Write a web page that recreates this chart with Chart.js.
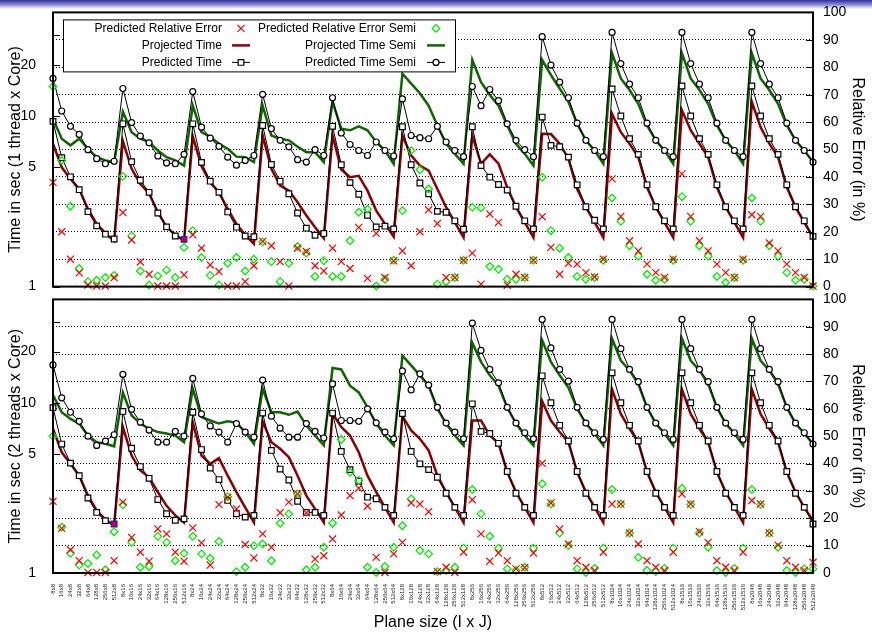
<!DOCTYPE html>
<html lang="en">
  <head>
    <meta charset="UTF-8" />
    <title>Predicted vs projected time</title>
    <script src="https://cdn.jsdelivr.net/npm/chart.js"></script>
    <style>
      body { margin: 0; background: #fff; }
      #wrap { position: relative; width: 872px; height: 633px; overflow: hidden; }
      .bar {
        position: absolute; left: 0; top: 0; width: 872px; height: 9px;
        background: linear-gradient(#2e2e9a, #9090d8 55%, #fff);
      }
      canvas { position: absolute; left: 0; }
      #chartTop { top: -6px; }
      #chartBottom { top: 281px; }
    </style>
  </head>
  <body>
    <div id="wrap">
      <div class="bar"></div>
      <canvas id="chartTop" width="872" height="311"></canvas>
      <canvas id="chartBottom" width="872" height="352"></canvas>
    </div>

    <script>
      // eixo x: I x J
      const sizesI = ["8", "16", "24", "32", "64", "128", "256", "512"];
      const sizesJ = ["8", "16", "24", "32", "64", "128", "256", "512", "1024", "1536", "2048"];
      const planeLabels = sizesJ.flatMap((j) => sizesI.map((i) => i + "x" + j));

      const timeTicks = [1, 5, 10, 20];

      // 1 thread x core (seconds / %)
      const predTime1 = [
        9.3, 5.7, 4.4, 3.7, 2.75, 2.27, 2.03, 1.9,
        9.0, 5.4, 4.2, 3.57, 2.7, 2.24, 1.98, 1.89,
        9.0, 5.35, 4.15, 3.57, 2.74, 2.23, 1.98, 1.96,
        8.8, 5.2, 4.15, 3.5, 2.7, 2.2, 2.0, 2.05,
        8.7, 5.18, 4.07, 3.48, 2.62, 2.24, 2.26, 2.18,
        8.65, 5.18, 4.05, 3.5, 2.76, 2.73, 2.43, 2.17,
        8.65, 5.12, 4.38, 3.97, 3.68, 2.96, 2.43, 2.18,
        9.86, 6.73, 6.6, 5.74, 3.95, 2.94, 2.45, 2.18,
        14.4, 10.0, 7.37, 5.96, 3.95, 2.94, 2.43, 2.18,
        15.0, 10.0, 7.37, 5.96, 3.95, 2.94, 2.43, 2.18,
        15.0, 10.0, 7.37, 5.96, 3.95, 2.94, 2.43, 1.97,
      ];
      const predSemi1 = [
        16.6, 10.7, 8.7, 7.8, 6.35, 5.62, 5.25, 5.43,
        14.5, 9.15, 7.63, 6.96, 5.83, 5.31, 5.25, 5.96,
        13.9, 8.6, 7.42, 6.63, 5.74, 5.15, 5.49, 5.87,
        13.4, 8.43, 7.2, 6.6, 5.55, 5.37, 6.35, 5.87,
        12.8, 7.95, 6.81, 6.28, 5.87, 7.04, 6.28, 5.83,
        12.6, 7.69, 7.47, 7.36, 8.7, 7.04, 6.28, 5.78,
        14.9, 11.5, 14.3, 12.3, 9.0, 7.2, 6.35, 5.78,
        29.2, 19.9, 15.8, 12.8, 9.08, 7.2, 6.28, 5.78,
        30.9, 20.3, 15.4, 12.8, 9.08, 7.2, 6.28, 5.78,
        30.9, 20.3, 15.4, 12.8, 9.08, 7.2, 6.28, 5.78,
        30.9, 20.3, 15.4, 12.8, 9.08, 7.2, 6.28, 5.37,
      ];
      const proj1 = [
        6.88, 5.0, 4.28, 3.73, 2.85, 2.33, 2.05, 1.85,
        7.12, 4.9, 4.0, 3.52, 2.73, 2.24, 2.01, 1.85,
        7.6, 5.07, 4.08, 3.57, 2.85, 2.33, 2.01, 1.78,
        7.69, 4.9, 3.91, 3.65, 3.12, 2.61, 2.23, 1.92,
        7.69, 4.86, 4.38, 4.46, 3.65, 2.79, 2.33, 1.96,
        7.69, 5.87, 5.12, 4.79, 3.73, 2.92, 2.38, 1.94,
        7.69, 5.25, 5.96, 5.25, 3.82, 2.92, 2.38, 1.94,
        7.87, 7.84, 6.88, 5.62, 3.73, 2.92, 2.38, 1.94,
        10.3, 8.04, 6.88, 5.74, 3.82, 2.92, 2.38, 1.94,
        10.8, 8.25, 6.88, 5.74, 3.82, 2.92, 2.38, 1.94,
        12.1, 8.6, 6.88, 5.74, 3.82, 2.92, 2.38, 1.94,
      ];
      const projSemi1 = [
        9.64, 7.36, 6.73, 7.36, 6.42, 5.74, 5.49, 5.37,
        10.6, 8.04, 7.36, 7.04, 6.28, 5.74, 5.49, 5.12,
        11.5, 8.04, 7.55, 6.88, 6.42, 5.78, 5.74, 5.37,
        11.5, 7.69, 7.36, 7.2, 6.6, 6.14, 6.14, 5.37,
        12.1, 8.43, 8.25, 8.7, 8.25, 7.04, 6.28, 5.25,
        17.7, 15.5, 13.6, 11.5, 8.8, 6.88, 6.0, 5.25,
        21.3, 15.8, 13.3, 11.5, 8.8, 6.88, 6.0, 5.12,
        21.3, 17.4, 14.5, 12.1, 9.0, 7.2, 6.28, 5.25,
        23.3, 16.6, 14.2, 11.8, 8.8, 7.2, 6.28, 5.25,
        23.3, 16.6, 14.2, 11.8, 8.8, 7.2, 6.28, 5.25,
        23.3, 16.6, 14.2, 11.8, 8.8, 7.2, 6.28, 5.37,
      ];
      const err1 = [
        38, 20, 10, 5, 0.6, 0.2, 0.2, 3.3,
        27, 17, 9, 4.5, 0.2, 0.2, 0.2, 4.3,
        18.9, 14, 7.9, 5.5, 0.2, 0.2, 1.8, 7.6,
        16.5, 14.9, 9.1, 0.2, 14, 12.8, 7.6, 5.7,
        14, 9.1, 6.6, 21.6, 3, 19.4, 3.3, 9.4,
        13, 7.6, 20, 28, 23, 3.3, 3.3, 9.6,
        12.2, 0.9, 26.5, 23.4, 0.5, 4.5, 3.3, 9.6,
        25.5, 14.3, 4.5, 8.5, 8.2, 5.1, 3.5, 10,
        39.3, 25.6, 16.7, 13, 8.2, 5.1, 3.3, 10,
        41.1, 25.6, 16.7, 13, 8.2, 5.1, 3.3, 10,
        26.2, 25.6, 15.9, 13, 8.2, 5.1, 3.3, 0.2,
      ];
      const errSemi1 = [
        73, 46, 29.3, 6.6, 1.8, 2.3, 3.3, 4.1,
        40.2, 18.5, 5.7, 0.6, 3.9, 6, 3.3, 14.3,
        20.4, 10.6, 4.1, 0.6, 8.5, 10.6, 5.7, 10,
        16.3, 9.1, 1.8, 8.5, 14.6, 12.2, 3.7, 9.4,
        3.7, 3.7, 16.7, 27.1, 28.2, 0.2, 2.7, 9.6,
        27.7, 49.6, 42.6, 35.6, 0.9, 1.8, 3.3, 9.6,
        28.9, 28.7, 7.3, 6.3, 2.7, 2.7, 3.3, 9.6,
        39.9, 20.4, 14, 10.6, 3.7, 2.7, 3.3, 9.6,
        32.3, 23.8, 14.9, 11.1, 4.5, 2.3, 2.7, 9.6,
        32.8, 23.8, 14.9, 11.1, 3.7, 1.5, 3.3, 9.6,
        32.3, 23.8, 14.9, 11.1, 5.1, 2.3, 2.7, 0.2,
      ];

      // 2 threads x core
      const predTime2 = [
        9.36, 5.72, 4.42, 3.73, 2.76, 2.27, 2.03, 1.94,
        8.9, 5.41, 4.22, 3.6, 2.7, 2.23, 2.04, 2.08,
        8.8, 5.31, 4.14, 3.54, 2.67, 2.23, 2.13, 2.18,
        8.7, 5.25, 4.08, 3.52, 2.64, 2.27, 2.27, 2.18,
        8.7, 5.18, 4.05, 3.46, 2.79, 2.73, 2.43, 2.18,
        8.65, 5.18, 4.38, 4.05, 3.65, 2.94, 2.43, 2.18,
        9.86, 6.79, 6.6, 5.78, 3.95, 2.94, 2.43, 2.18,
        14.4, 10.0, 7.37, 5.96, 3.95, 2.94, 2.43, 2.18,
        15.0, 10.0, 7.37, 5.96, 3.95, 2.94, 2.43, 2.18,
        15.0, 10.0, 7.37, 5.96, 3.95, 2.94, 2.43, 2.18,
        15.0, 10.0, 7.37, 5.96, 3.95, 2.94, 2.43, 1.94,
      ];
      const predSemi2 = [
        16.7, 10.7, 8.8, 7.78, 6.37, 5.62, 5.96, 6.49,
        14.7, 9.15, 7.69, 6.91, 5.87, 5.87, 6.79, 6.37,
        13.9, 8.6, 7.31, 6.73, 5.87, 7.55, 6.73, 6.28,
        13.6, 8.34, 7.09, 6.28, 6.28, 7.55, 6.79, 6.21,
        12.9, 7.87, 7.87, 7.78, 9.22, 7.63, 6.73, 6.14,
        15.4, 11.9, 14.8, 12.7, 9.4, 7.6, 6.73, 6.14,
        29.4, 20.3, 15.7, 13.1, 9.4, 7.6, 6.67, 6.14,
        30.9, 21.0, 15.7, 13.4, 9.4, 7.6, 6.67, 6.09,
        30.9, 20.8, 15.7, 13.3, 9.4, 7.6, 6.67, 6.09,
        30.9, 20.8, 15.7, 13.3, 9.4, 7.6, 6.67, 6.09,
        30.9, 20.8, 15.7, 13.3, 9.4, 7.6, 6.67, 5.72,
      ];
      const proj2 = [
        7.04, 5.12, 4.38, 3.73, 2.85, 2.33, 2.06, 1.9,
        7.2, 4.9, 4.0, 3.65, 2.99, 2.48, 2.18, 1.98,
        7.69, 4.9, 4.38, 4.73, 3.73, 2.99, 2.43, 1.98,
        7.78, 5.87, 5.37, 4.79, 3.73, 2.85, 2.38, 1.98,
        8.66, 7.2, 6.42, 5.12, 3.73, 2.99, 2.43, 1.98,
        8.34, 6.88, 6.14, 5.25, 3.73, 2.99, 2.43, 1.98,
        7.87, 7.87, 6.42, 5.78, 3.91, 2.99, 2.43, 1.98,
        10.2, 7.87, 6.73, 5.87, 3.91, 2.99, 2.43, 1.98,
        12.0, 8.6, 7.04, 5.87, 3.91, 2.99, 2.43, 1.98,
        12.0, 8.6, 7.04, 5.87, 3.91, 2.99, 2.43, 1.98,
        12.0, 8.6, 7.04, 5.87, 3.91, 2.99, 2.43, 2.03,
      ];
      const projSemi2 = [
        11.1, 8.8, 8.04, 7.55, 6.42, 5.87, 5.74, 5.55,
        11.5, 8.43, 7.55, 7.04, 6.73, 6.6, 6.42, 5.87,
        12.1, 8.25, 7.87, 7.55, 7.78, 7.63, 6.73, 5.74,
        12.1, 8.8, 8.8, 8.5, 8.88, 7.36, 6.42, 5.62,
        16.0, 15.7, 12.6, 11.5, 9.4, 7.55, 6.42, 5.62,
        18.9, 16.6, 14.5, 12.6, 9.22, 7.55, 6.42, 5.62,
        22.5, 17.4, 14.5, 12.6, 9.4, 7.55, 6.42, 5.62,
        23.3, 17.4, 14.5, 12.3, 9.22, 7.55, 6.6, 5.62,
        23.8, 17.7, 15.5, 12.9, 9.4, 7.55, 6.6, 5.62,
        23.8, 17.7, 15.5, 12.9, 9.4, 7.55, 6.6, 5.62,
        23.8, 17.7, 15.5, 12.9, 9.4, 7.55, 6.6, 5.74,
      ];
      const err2 = [
        26.2, 16.3, 8.5, 4.5, 0.2, 0.2, 0.2, 4.5,
        25.9, 13, 7.6, 4.3, 16.1, 14.3, 7.6, 4.3,
        16.5, 11, 2.9, 25, 27.7, 23.4, 10.4, 5.5,
        14.3, 9.4, 22, 25.9, 28.9, 22, 5.1, 6.3,
        12.4, 21.2, 28.3, 31, 24.4, 5.7, 0.2, 7,
        11.2, 25.6, 25.2, 22.4, 0.5, 2.1, 0.2, 7.6,
        26.8, 14.3, 4.3, 7.3, 4.5, 1.5, 2, 7.3,
        40.1, 25.6, 16.1, 10.6, 4.5, 2.1, 0.9, 7.6,
        25.2, 25.2, 14.6, 10.6, 4.5, 2.1, 0.9, 7.6,
        28.9, 25.2, 15.1, 11.2, 4.5, 2.1, 0.9, 7.6,
        26.5, 25.2, 14.6, 10.2, 4.5, 2.1, 0.9, 3.9,
      ];
      const errSemi2 = [
        50, 16.7, 7.2, 2.9, 3.5, 6.6, 1.2, 15.1,
        24.9, 11.2, 2.1, 2.4, 13.4, 11.2, 4.5, 7.2,
        13.4, 7, 5.4, 11.5, 27.9, 0.5, 2.1, 10,
        10.6, 4.5, 18.2, 21.6, 28.9, 1.2, 2.1, 9.4,
        18.2, 48.8, 36.8, 33.8, 2.1, 0.2, 2.4, 9.4,
        17.3, 27.1, 8.2, 7, 0.5, 0.9, 2.1, 9.1,
        30.5, 21.6, 13.4, 9.1, 1.5, 0.9, 2.1, 9.1,
        32.6, 25.2, 14.6, 10, 1.5, 0.2, 1.7, 9.1,
        30.5, 25.2, 14.6, 5.7, 0.9, 0.5, 1.7, 9.1,
        31, 25, 14.6, 9.4, 0.9, 0.2, 1.7, 9.1,
        30.5, 25, 14.6, 9.4, 0.9, 0.2, 1.5, 1.5,
      ];

      Chart.defaults.font.family = '"Liberation Sans", Arial, Helvetica, sans-serif';
      Chart.defaults.color = "#000";

      // moldura + ticks para dentro, estilo gnuplot
      const framePlugin = {
        id: "frame",
        afterDraw(chart) {
          const { ctx, chartArea: a, scales } = chart;
          ctx.save();
          ctx.strokeStyle = "#000";
          ctx.lineWidth = 1;
          ctx.beginPath();
          [1, 5, 10, 20, 30].forEach((v) => {
            const y = Math.round(scales.y.getPixelForValue(v)) + 0.5;
            ctx.moveTo(a.left, y);
            ctx.lineTo(a.left + 7, y);
          });
          for (let v = 0; v <= 100; v += 10) {
            const y = Math.round(scales.y1.getPixelForValue(v)) + 0.5;
            ctx.moveTo(a.right - 7, y);
            ctx.lineTo(a.right, y);
          }
          ctx.stroke();
          ctx.lineWidth = 2;
          ctx.strokeRect(a.left, a.top, a.right - a.left, a.bottom - a.top);
          ctx.restore();
        },
      };

      // legenda em duas colunas (texto à esquerda do símbolo)
      const legendPlugin = {
        id: "gnuLegend",
        afterDraw(chart, args, opts) {
          if (!opts.show) return;
          const ctx = chart.ctx;
          const ds = chart.data.datasets;
          const top = chart.chartArea.top;
          ctx.save();
          ctx.fillStyle = "#fff";
          ctx.fillRect(63, top + 7, 392, 52);
          ctx.strokeStyle = "#000";
          ctx.lineWidth = 1;
          ctx.strokeRect(63.5, top + 7.5, 392, 52);
          ctx.font = '12px "Liberation Sans", Arial, sans-serif';
          ctx.textAlign = "right";
          ctx.textBaseline = "middle";

          const items = [
            { d: ds[0], tx: 222, sx: 241, row: 0 },
            { d: ds[4], tx: 222, sx: 241, row: 1 },
            { d: ds[2], tx: 222, sx: 241, row: 2 },
            { d: ds[1], tx: 416, sx: 436, row: 0 },
            { d: ds[5], tx: 416, sx: 436, row: 1 },
            { d: ds[3], tx: 416, sx: 436, row: 2 },
          ];
          items.forEach((it) => {
            const d = it.d;
            const y = top + 16 + it.row * 17;
            ctx.fillStyle = "#000";
            ctx.fillText(d.label, it.tx, y);
            if (d.showLine !== false) {
              ctx.strokeStyle = d.borderColor;
              ctx.lineWidth = d.borderWidth;
              ctx.beginPath();
              ctx.moveTo(it.sx - 9, y);
              ctx.lineTo(it.sx + 9, y);
              ctx.stroke();
            }
            if (d.pointRadius > 0) {
              ctx.fillStyle = "#fff";
              ctx.strokeStyle = d.legendColor;
              ctx.lineWidth = d.pointBorderWidth;
              Chart.helpers.drawPoint(
                ctx,
                {
                  pointStyle: d.pointStyle,
                  radius: d.pointRadius,
                  borderWidth: d.pointBorderWidth,
                },
                it.sx,
                y
              );
            }
          });
          ctx.restore();
        },
      };

      function buildDatasets(err, errSemi, proj, projSemi, pred, predSemi, mark) {
        return [
          {
            label: "Predicted Relative Error",
            data: err,
            yAxisID: "y1",
            showLine: false,
            pointStyle: "crossRot",
            pointRadius: 5,
            pointBorderWidth: 1.2,
            pointBorderColor: "#ff0000",
            legendColor: "#ff0000",
            clip: false,
          },
          {
            label: "Predicted Relative Error Semi",
            data: errSemi,
            yAxisID: "y1",
            showLine: false,
            pointStyle: "rectRot",
            pointRadius: 3.8,
            pointBorderWidth: 1.3,
            pointBorderColor: "#00ee00",
            pointBackgroundColor: "rgba(0,0,0,0)",
            legendColor: "#00ee00",
            clip: false,
          },
          {
            label: "Predicted Time",
            data: pred,
            yAxisID: "y",
            borderColor: "#000",
            borderWidth: 1,
            pointStyle: "rect",
            pointRadius: 4,
            pointBorderWidth: 1.2,
            pointBackgroundColor: (c) => (c.dataIndex === mark ? "#e00000" : "#fff"),
            pointBorderColor: (c) => (c.dataIndex === mark ? "#1a1aff" : "#000"),
            legendColor: "#000",
            tension: 0,
            clip: false,
          },
          {
            label: "Predicted Time Semi",
            data: predSemi,
            yAxisID: "y",
            borderColor: "#000",
            borderWidth: 1,
            pointStyle: "circle",
            pointRadius: 3,
            pointBorderWidth: 1.2,
            pointBackgroundColor: "#fff",
            pointBorderColor: "#000",
            legendColor: "#000",
            tension: 0,
            clip: false,
          },
          {
            label: "Projected Time",
            data: proj,
            yAxisID: "y",
            borderColor: "#8b0000",
            borderWidth: 2.5,
            pointRadius: 0,
            tension: 0,
            clip: false,
          },
          {
            label: "Projected Time Semi",
            data: projSemi,
            yAxisID: "y",
            borderColor: "#0f6600",
            borderWidth: 2.5,
            pointRadius: 0,
            tension: 0,
            clip: false,
          },
        ];
      }

      function makePanel(id, yTitle, sets, isBottom) {
        const canvas = document.getElementById(id);
        return new Chart(canvas.getContext("2d"), {
          type: "line",
          data: { labels: planeLabels, datasets: sets },
          options: {
            responsive: false,
            animation: false,
            events: [],
            layout: { padding: 0 },
            plugins: {
              legend: { display: false },
              tooltip: { enabled: false },
              gnuLegend: { show: !isBottom },
            },
            scales: {
              x: {
                display: isBottom,
                grid: { display: false },
                border: { display: false },
                ticks: {
                  autoSkip: false,
                  maxRotation: 90,
                  minRotation: 90,
                  padding: 3,
                  color: "#222",
                  font: { size: 6 },
                },
                title: {
                  display: true,
                  text: "Plane size (I x J)",
                  font: { size: 16 },
                  padding: { top: 0, bottom: 1 },
                },
                afterFit: (s) => {
                  s.height = isBottom ? 60 : 0;
                },
              },
              y: {
                type: "logarithmic",
                position: "left",
                min: 1,
                max: 40.5,
                afterBuildTicks: (s) => {
                  s.ticks = timeTicks.map((v) => ({ value: v }));
                },
                afterFit: (s) => {
                  s.width = 53;
                },
                grid: { display: false },
                border: { display: false },
                ticks: {
                  padding: 9,
                  font: { size: 14 },
                  callback: (v) => String(v),
                },
                title: {
                  display: true,
                  text: yTitle,
                  font: { size: 16 },
                  padding: { top: 6, bottom: 0 },
                },
              },
              y1: {
                position: "right",
                min: 0,
                max: 100,
                afterFit: (s) => {
                  s.width = 59;
                },
                grid: {
                  drawTicks: false,
                  lineWidth: 1,
                  color: (c) =>
                    c.tick && (c.tick.value === 0 || c.tick.value === 100)
                      ? "rgba(0,0,0,0)"
                      : "#000",
                },
                border: { display: false, dash: [1, 2] },
                ticks: { stepSize: 10, padding: 10, font: { size: 14 } },
                title: {
                  display: true,
                  text: "Relative Error (in %)",
                  font: { size: 16 },
                  padding: { top: 5, bottom: 0 },
                },
              },
            },
          },
          plugins: [framePlugin, legendPlugin],
        });
      }

      makePanel(
        "chartTop",
        "Time in sec (1 thread x Core)",
        buildDatasets(err1, errSemi1, proj1, projSemi1, predTime1, predSemi1, 15),
        false
      );
      makePanel(
        "chartBottom",
        "Time in sec (2 threads x Core)",
        buildDatasets(err2, errSemi2, proj2, projSemi2, predTime2, predSemi2, 7),
        true
      );
    </script>
  </body>
</html>
